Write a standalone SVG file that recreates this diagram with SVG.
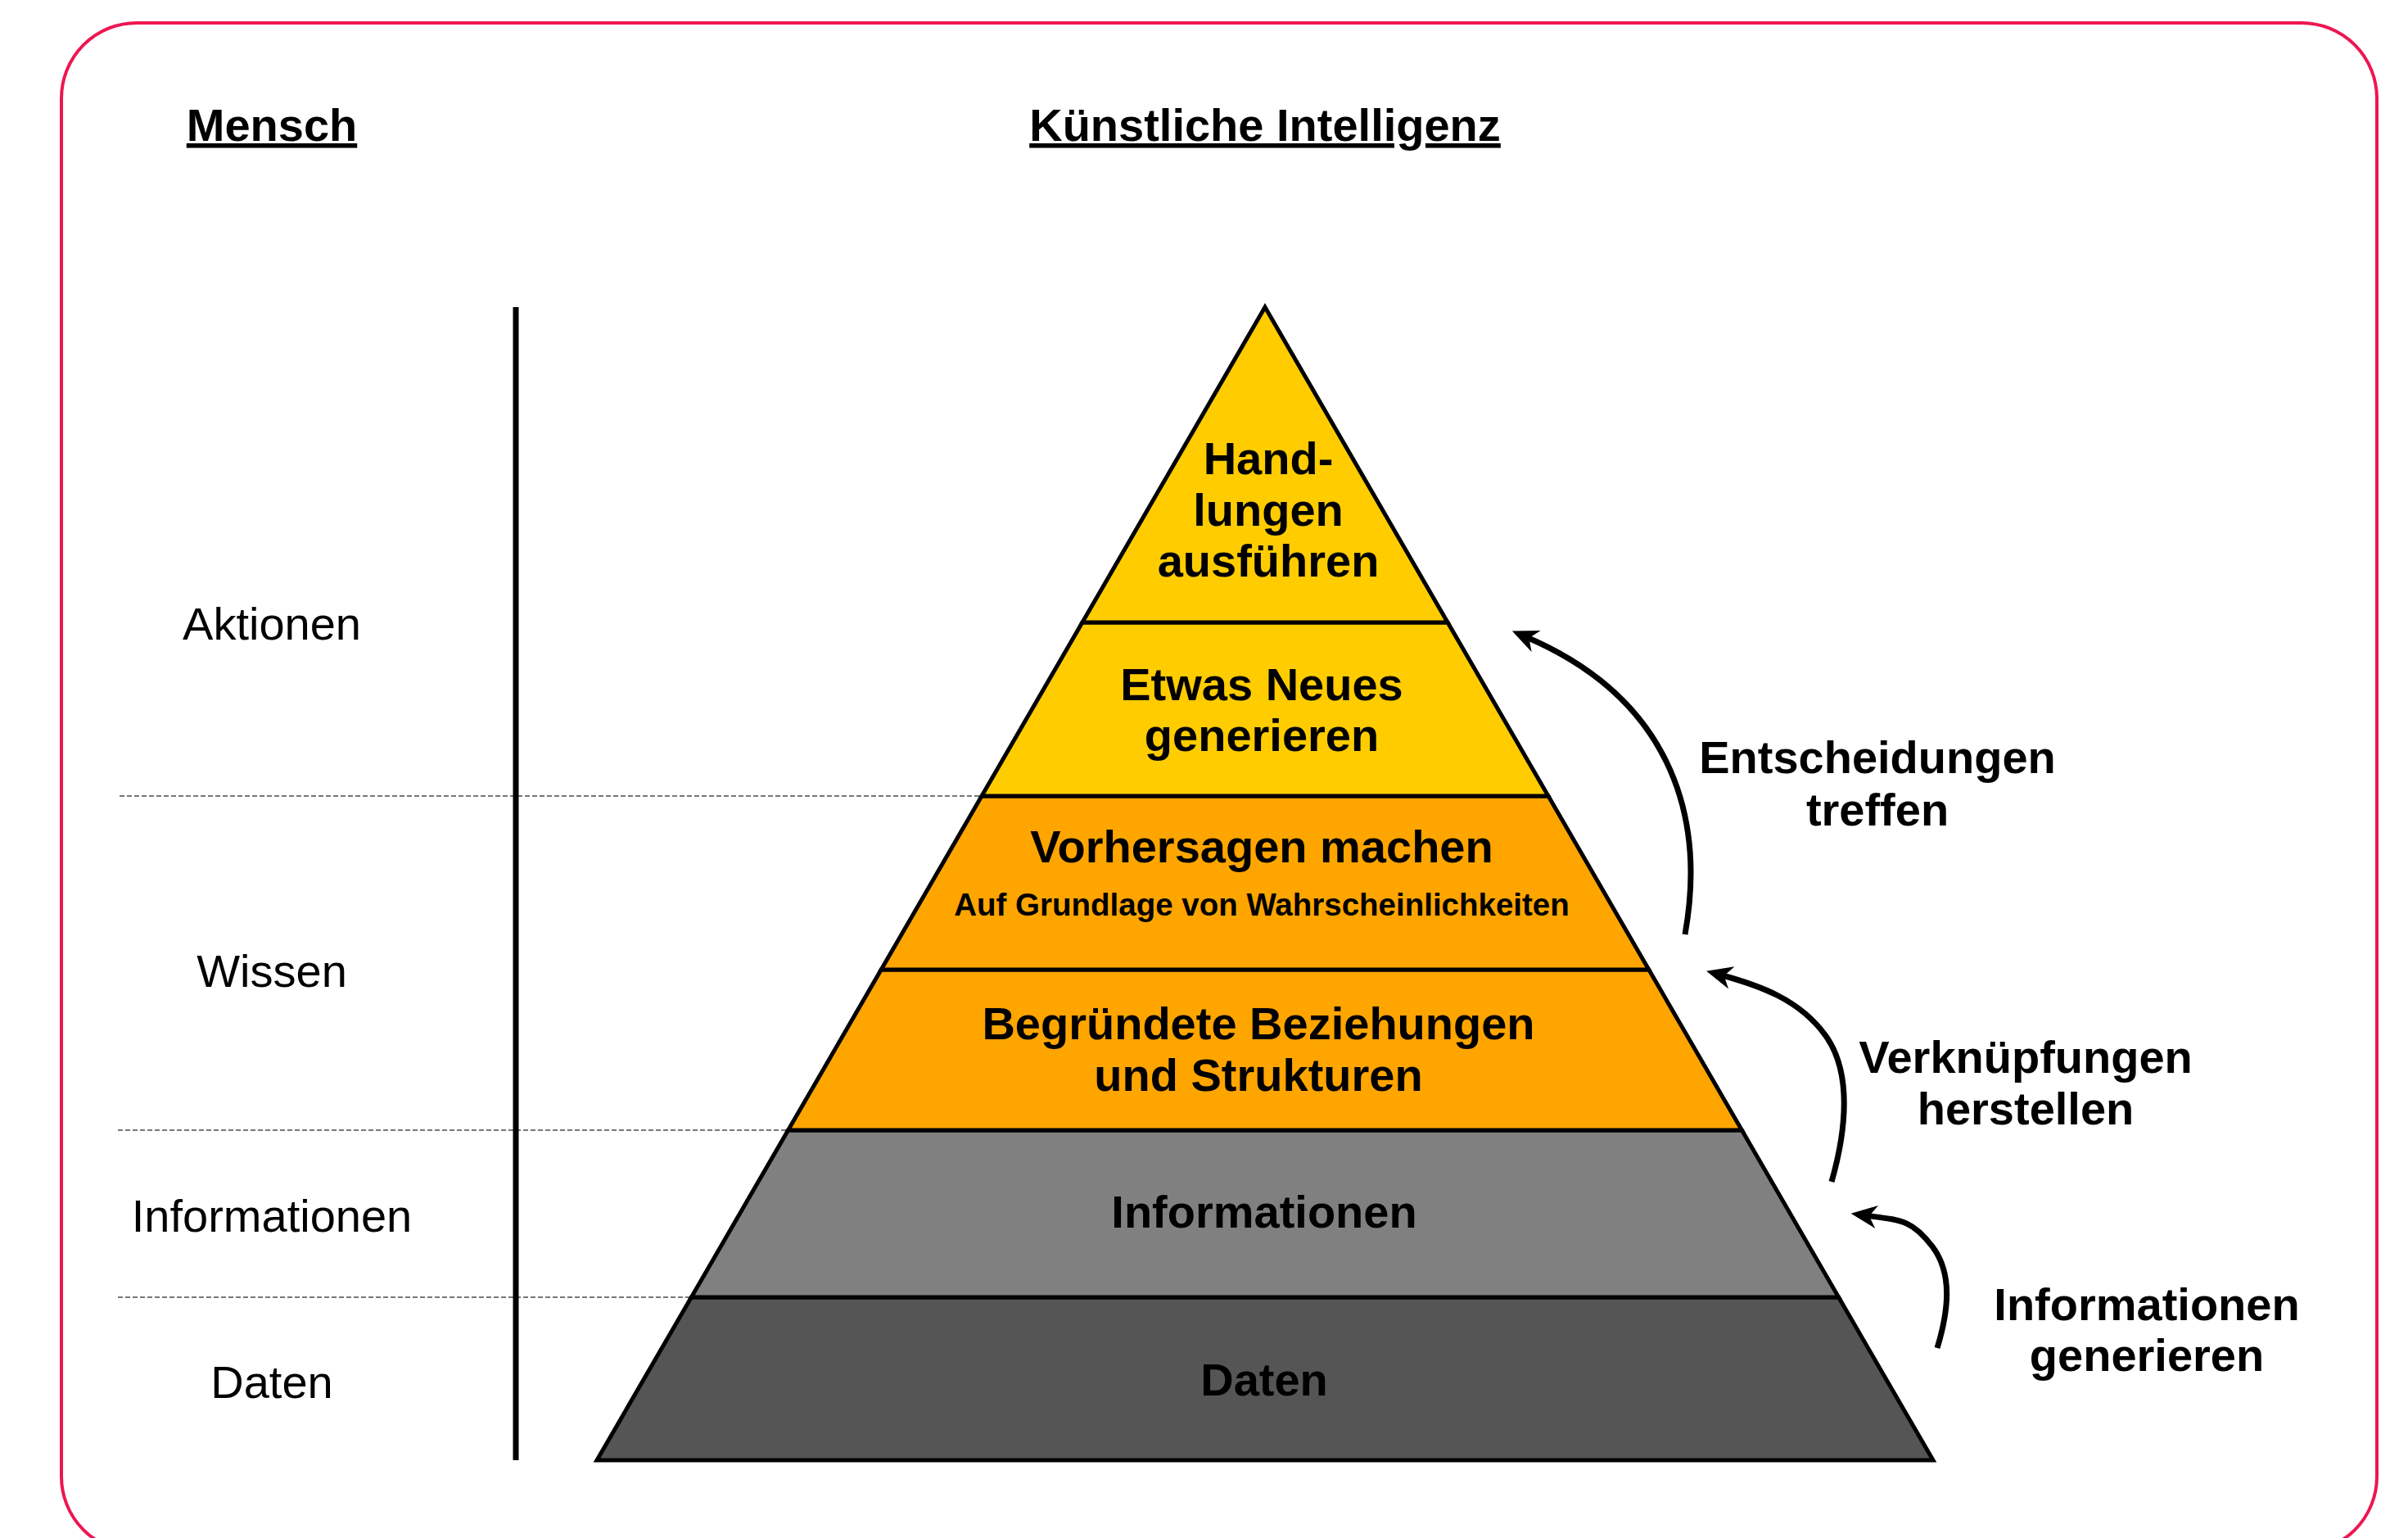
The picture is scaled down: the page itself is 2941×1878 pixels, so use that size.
<svg xmlns="http://www.w3.org/2000/svg" width="2941" height="1878" viewBox="0 0 2941 1878">
<defs>
<style>
.t{font-family:"Liberation Sans",Arial,sans-serif;font-size:56px;fill:#000;text-anchor:middle}
.b{font-weight:bold}
.small{font-size:38.5px}
.hd{font-weight:bold;text-decoration:underline}
.layer{stroke:#000;stroke-width:5;stroke-linejoin:miter}
.dash{stroke:#777;stroke-width:2;stroke-dasharray:6 3;fill:none}
.arrow{fill:none;stroke:#000;stroke-width:7;marker-end:url(#arr)}
</style>
<marker id="arr" markerUnits="userSpaceOnUse" markerWidth="40" markerHeight="40" viewBox="-30 -16 34 32" refX="-14" refY="0" orient="auto" overflow="visible">
<path d="M0,0 L-27,-12 L-19,0 L-27,12 Z" fill="#000"/>
</marker>
</defs>
<rect x="75" y="28" width="2828" height="1867" rx="92" ry="92" fill="none" stroke="#ED1651" stroke-width="4"/>

<g id="headers">
<text class="t hd" x="332" y="172">Mensch</text>
<text class="t hd" x="1545" y="172">Künstliche Intelligenz</text>
</g>

<g id="guides">
<line class="dash" x1="146" y1="972" x2="1199" y2="972"/>
<line class="dash" x1="144" y1="1380" x2="963" y2="1380"/>
<line class="dash" x1="144" y1="1584" x2="844" y2="1584"/>
<line x1="630" y1="375" x2="630" y2="1783" stroke="#000" stroke-width="7"/>
</g>

<g id="human-labels">
<text class="t" x="332" y="781">Aktionen</text>
<text class="t" x="332" y="1205">Wissen</text>
<text class="t" x="332" y="1504">Informationen</text>
<text class="t" x="332" y="1707">Daten</text>
</g>

<g id="layer-daten">
<polygon class="layer" fill="#555555" points="844.4,1584 2245.6,1584 2361,1783 729,1783"/>
<text class="t b" x="1544" y="1704">Daten</text>
</g>
<g id="layer-informationen">
<polygon class="layer" fill="#808080" points="962.6,1380 2127.4,1380 2245.6,1584 844.4,1584"/>
<text class="t b" x="1544" y="1499">Informationen</text>
</g>
<g id="layer-beziehungen">
<polygon class="layer" fill="#FFA500" points="1076.2,1184 2013.8,1184 2127.4,1380 962.6,1380"/>
<text class="t b" x="1537" y="1269">Begründete Beziehungen</text>
<text class="t b" x="1537" y="1332">und Strukturen</text>
</g>
<g id="layer-vorhersagen">
<polygon class="layer" fill="#FFA500" points="1199,972 1891,972 2013.8,1184 1076.2,1184"/>
<text class="t b" x="1541" y="1053">Vorhersagen machen</text>
<text class="t b small" x="1541" y="1118">Auf Grundlage von Wahrscheinlichkeiten</text>
</g>
<g id="layer-neues">
<polygon class="layer" fill="#FFCC00" points="1321.9,760 1768.1,760 1891,972 1199,972"/>
<text class="t b" x="1541" y="855">Etwas Neues</text>
<text class="t b" x="1541" y="917">generieren</text>
</g>
<g id="layer-handlungen">
<polygon class="layer" fill="#FFCC00" points="1545,375 1768.1,760 1321.9,760"/>
<text class="t b" x="1549" y="579">Hand-</text>
<text class="t b" x="1549" y="642">lungen</text>
<text class="t b" x="1549" y="704">ausführen</text>
</g>

<g id="connectors">
<path class="arrow" d="M2058,1141 C2085,990 2035,850 1862,777"/>
<path class="arrow" d="M2237,1443 C2255,1380 2262,1310 2230,1265 C2198,1220 2148,1203 2100,1190"/>
<path class="arrow" d="M2366,1646 C2380,1600 2385,1555 2360,1522 C2335,1489 2322,1490 2277,1484"/>
</g>

<g id="ai-labels">
<text class="t b" x="2293" y="944">Entscheidungen</text>
<text class="t b" x="2293" y="1008">treffen</text>
<text class="t b" x="2474" y="1310">Verknüpfungen</text>
<text class="t b" x="2474" y="1373">herstellen</text>
<text class="t b" x="2622" y="1612">Informationen</text>
<text class="t b" x="2622" y="1674">generieren</text>
</g>
</svg>
